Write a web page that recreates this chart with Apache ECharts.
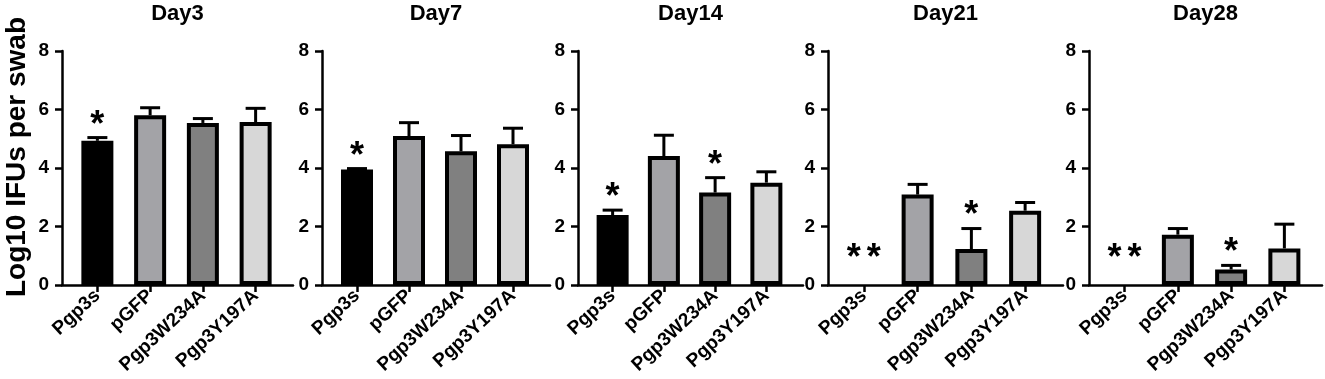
<!DOCTYPE html>
<html>
<head>
<meta charset="utf-8">
<script src="https://cdn.jsdelivr.net/npm/echarts@6/dist/echarts.min.js"></script>
<style>
  html, body { margin: 0; padding: 0; background: #fff; }
  #chart { width: 1325px; height: 379px; }
</style>
</head>
<body>
<div id="chart"></div>
<script>
// groups on every panel
const groups = ['Pgp3s', 'pGFP', 'Pgp3W234A', 'Pgp3Y197A']
const days = ['Day3', 'Day7', 'Day14', 'Day21', 'Day28']
const yTicks = [0, 2, 4, 6, 8]

// mean log10 IFUs per swab, one array per day
const meanDay3 = [4.93, 5.80, 5.54, 5.57]
const meanDay7 = [3.95, 5.09, 4.57, 4.81]
const meanDay14 = [2.39, 4.41, 3.16, 3.50]
const meanDay21 = [0, 3.09, 1.23, 2.54]
const meanDay28 = [0, 1.72, 0.53, 1.25]

// upper error (SD) per day
const errDay3 = [0.11, 0.26, 0.15, 0.47]
const errDay7 = [0.03, 0.46, 0.54, 0.55]
const errDay14 = [0.17, 0.71, 0.51, 0.37]
const errDay21 = [0, 0.35, 0.70, 0.28]
const errDay28 = [0, 0.21, 0.14, 0.83]

// significance marks
const sigDay3 = ['*', '', '', '']
const sigDay7 = ['*', '', '', '']
const sigDay14 = ['*', '', '*', '']
const sigDay21 = ['**', '', '*', '']
const sigDay28 = ['**', '', '*', '']

const means = [meanDay3, meanDay7, meanDay14, meanDay21, meanDay28]
const errs = [errDay3, errDay7, errDay14, errDay21, errDay28]
const sigs = [sigDay3, sigDay7, sigDay14, sigDay21, sigDay28]

// 柱子颜色
const barColors = ['#000000', '#a3a3a7', '#808080', '#d7d7d7']

// panel frames (pixel layout)
const axisLeft = [62, 322, 578, 828, 1089]
const axisRight = [293, 550, 803, 1063, 1322]
const gridTop = 51
const gridBottom = 94
const W = 1325

const boldFont = '"Liberation Sans", Arial, sans-serif'

const grid = []
const xAxis = []
const yAxis = []
const series = []
const graphic = []

days.forEach((day, d) => {
  const fi = d * 2
  const bi = d * 2 + 1
  // 外框坐标轴
  grid.push({ left: axisLeft[d], right: W - axisRight[d], top: gridTop, bottom: gridBottom })
  // 柱子区域
  grid.push({ left: axisLeft[d] + 9, right: W - axisRight[d] + 11, top: gridTop, bottom: gridBottom })

  xAxis.push({
    gridIndex: fi, type: 'value', min: 0, max: 1,
    axisLine: { show: true, lineStyle: { color: '#000', width: 2.5 } },
    axisTick: { show: false }, axisLabel: { show: false }, splitLine: { show: false }
  })
  xAxis.push({
    gridIndex: bi, type: 'category', data: groups,
    axisLine: { show: false },
    axisTick: { show: true, alignWithLabel: true, length: 7, lineStyle: { color: '#000', width: 2.5 } },
    axisLabel: {
      rotate: 43, margin: 8, color: '#000', fontSize: 19, fontWeight: 'bold',
      fontFamily: boldFont, interval: 0
    }
  })
  yAxis.push({
    gridIndex: fi, type: 'value',
    min: yTicks[0], max: yTicks[yTicks.length - 1], interval: yTicks[1] - yTicks[0],
    axisLine: { show: true, lineStyle: { color: '#000', width: 2.5 } },
    axisTick: { show: true, length: 7, lineStyle: { color: '#000', width: 2.5 } },
    axisLabel: { margin: 13, color: '#000', fontSize: 19, fontWeight: 'bold', fontFamily: boldFont },
    splitLine: { show: false }
  })
  yAxis.push({
    gridIndex: bi, type: 'value', show: false,
    min: yTicks[0], max: yTicks[yTicks.length - 1]
  })

  series.push({
    type: 'bar', xAxisIndex: bi, yAxisIndex: bi, barWidth: 32,
    data: means[d].map((v, i) => ({
      value: v,
      itemStyle: { color: barColors[i], borderColor: '#000', borderWidth: v > 0 ? 4 : 0 }
    })),
    silent: true
  })
  // 误差线 + 显著性
  series.push({
    type: 'custom', xAxisIndex: bi, yAxisIndex: bi, silent: true, z: 5,
    data: means[d].map((v, i) => [i, v, errs[d][i]]),
    renderItem: (params, api) => {
      const i = api.value(0)
      const m = api.value(1)
      const s = api.value(2)
      const base = api.coord([i, m])
      const tip = api.coord([i, m + s])
      const children = []
      if (s > 0) {
        children.push({ type: 'line', shape: { x1: base[0], y1: base[1], x2: tip[0], y2: tip[1] },
          style: { stroke: '#000', lineWidth: 3 } })
        children.push({ type: 'line', shape: { x1: tip[0] - 10, y1: tip[1], x2: tip[0] + 10, y2: tip[1] },
          style: { stroke: '#000', lineWidth: 3 } })
      }
      const sig = sigs[d][params.dataIndex]
      if (sig) {
        const y = m > 0 ? tip[1] + 6 : base[1] - 8
        const n = sig.length
        for (let k = 0; k < n; k++) {
          children.push({ type: 'text', x: tip[0] + (k - (n - 1) / 2) * 20, y: y,
            style: { text: '*', align: 'center', verticalAlign: 'bottom', fill: '#000',
              font: 'bold 36px ' + boldFont } })
        }
      }
      return { type: 'group', children }
    }
  })

  graphic.push({
    type: 'text', x: (axisLeft[d] + axisRight[d]) / 2, y: 3,
    style: { text: day, align: 'center', verticalAlign: 'top', fill: '#000',
      font: 'bold 22px ' + boldFont }
  })
})

// y 轴标题
graphic.push({
  type: 'text', x: 17, y: 157, rotation: Math.PI / 2,
  style: { text: 'Log10 IFUs per swab', align: 'center', verticalAlign: 'middle', fill: '#000',
    font: 'bold 28px ' + boldFont }
})

const chart = echarts.init(document.getElementById('chart'), null, { renderer: 'canvas' })
chart.setOption({
  animation: false,
  backgroundColor: '#fff',
  grid, xAxis, yAxis, series, graphic
})
</script>
</body>
</html>
